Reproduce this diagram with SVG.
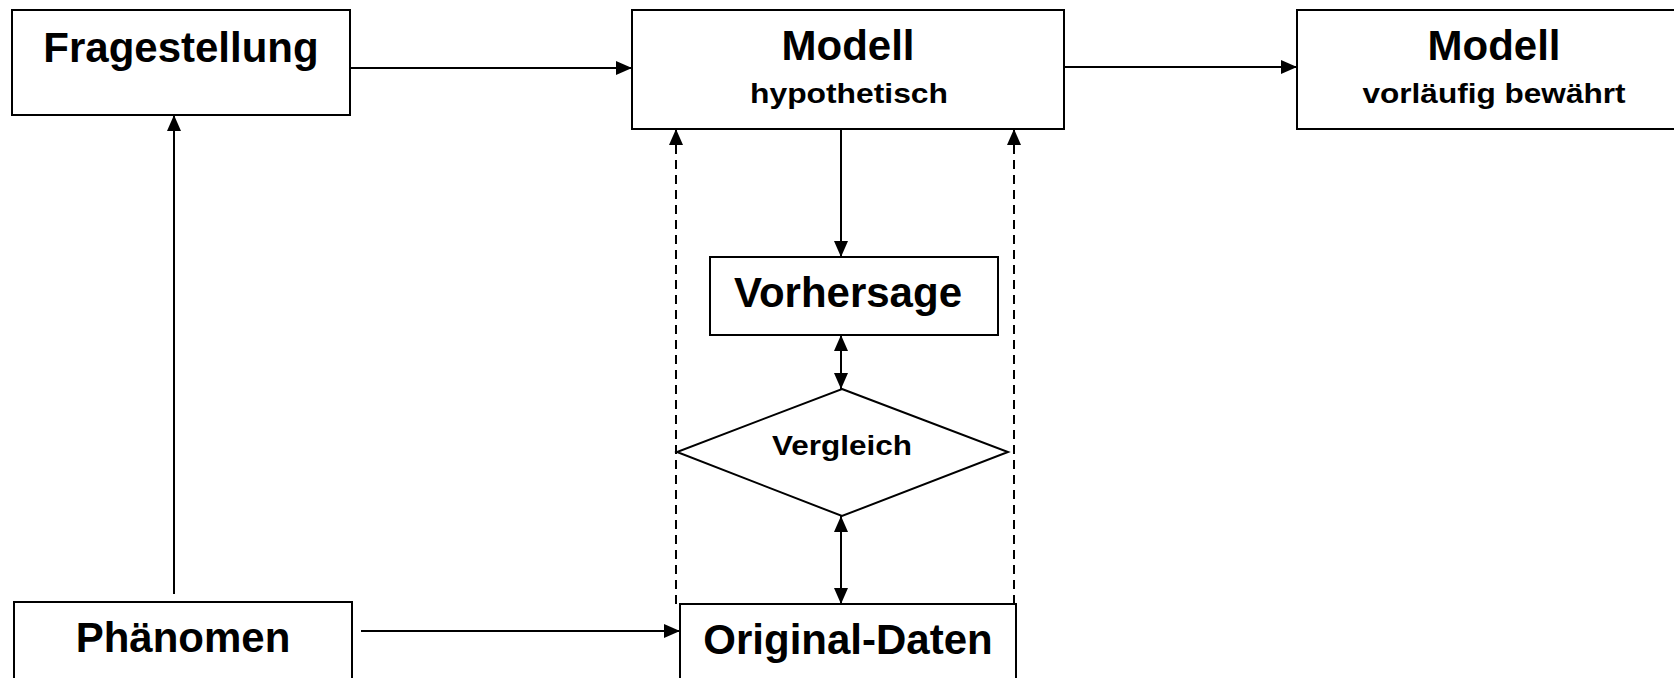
<svg xmlns="http://www.w3.org/2000/svg" width="1674" height="678" viewBox="0 0 1674 678">
<defs>
<marker id="ah" viewBox="0 0 16 14" refX="16" refY="7" markerWidth="16" markerHeight="14" markerUnits="userSpaceOnUse" orient="auto-start-reverse">
<path d="M0,0 L16,7 L0,14 Z" fill="#000"/>
</marker>
<style>
.box{fill:#fff;stroke:#000;stroke-width:2}
.t{font-family:"Liberation Sans",Arial,sans-serif;font-weight:bold;fill:#000;text-anchor:middle}
.big{font-size:42px}
.sub{font-size:28px}
.c{fill:none;stroke:#000;stroke-width:2}
.d{fill:none;stroke:#000;stroke-width:2;stroke-dasharray:9,6}
</style>
</defs>
<rect width="1674" height="678" fill="#fff"/>
<g id="connectors">
<path class="c" d="M350,68 L632,68" marker-end="url(#ah)"/>
<path class="c" d="M1064,67 L1297,67" marker-end="url(#ah)"/>
<path class="c" d="M174,594 L174,115" marker-end="url(#ah)"/>
<path class="c" d="M361,631 L680,631" marker-end="url(#ah)"/>
<path class="c" d="M841,129 L841,257" marker-end="url(#ah)"/>
<path class="c" d="M841,335 L841,389" marker-start="url(#ah)" marker-end="url(#ah)"/>
<path class="c" d="M841,516 L841,604" marker-start="url(#ah)" marker-end="url(#ah)"/>
<path class="d" d="M676,604 L676,129" marker-end="url(#ah)"/>
<path class="d" d="M1014,604 L1014,129" marker-end="url(#ah)"/>
</g>
<g id="fragestellung">
<rect class="box" x="12" y="10" width="338" height="105"/>
<text class="t big" x="181" y="62">Fragestellung</text>
</g>
<g id="modell-hypothetisch">
<rect class="box" x="632" y="10" width="432" height="119"/>
<text class="t big" x="848" y="60">Modell</text>
<text class="t sub" x="849" y="103" textLength="198" lengthAdjust="spacingAndGlyphs">hypothetisch</text>
</g>
<g id="modell-bewaehrt">
<rect class="box" x="1297" y="10" width="400" height="119"/>
<text class="t big" x="1494" y="60">Modell</text>
<text class="t sub" x="1494" y="103" textLength="263" lengthAdjust="spacingAndGlyphs">vorläufig bewährt</text>
</g>
<g id="vorhersage">
<rect class="box" x="710" y="257" width="288" height="78"/>
<text class="t big" x="848" y="307">Vorhersage</text>
</g>
<g id="vergleich">
<polygon class="box" points="842,389 1008,452 842,516 677,452"/>
<text class="t sub" x="842" y="455" textLength="140" lengthAdjust="spacingAndGlyphs">Vergleich</text>
</g>
<g id="phaenomen">
<rect class="box" x="14" y="602" width="338" height="90"/>
<text class="t big" x="183" y="652">Phänomen</text>
</g>
<g id="original-daten">
<rect class="box" x="680" y="604" width="336" height="90"/>
<text class="t big" x="848" y="654">Original-Daten</text>
</g>
</svg>
